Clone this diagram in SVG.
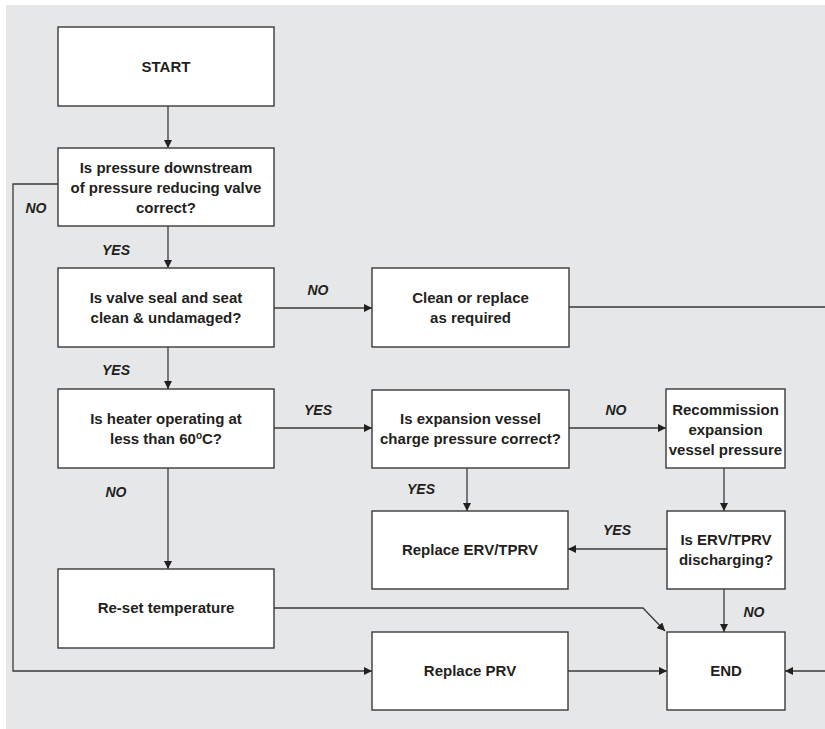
<svg xmlns="http://www.w3.org/2000/svg" width="825" height="729" viewBox="0 0 825 729">
<defs>
<style>
.box{fill:#ffffff;stroke:#3a3a3a;stroke-width:1.4}
.t{font-family:"Liberation Sans",Arial,sans-serif;font-weight:bold;font-size:15px;fill:#231f20;text-anchor:middle}
.lbl{font-family:"Liberation Sans",Arial,sans-serif;font-weight:bold;font-style:italic;font-size:14px;fill:#231f20;text-anchor:middle}
.c{fill:none;stroke:#3a3a3a;stroke-width:1.3}
</style>
<marker id="ah" viewBox="0 0 10 10" refX="10" refY="5" markerWidth="8" markerHeight="8" markerUnits="userSpaceOnUse" orient="auto">
<path d="M0,0 L10,5 L0,10 Z" fill="#231f20"/>
</marker>
</defs>
<rect x="0" y="0" width="825" height="729" fill="#ffffff"/>
<rect x="6" y="5" width="819" height="724" fill="#e6e7e8"/>

<g id="connectors">
<path class="c" d="M168,106 V148" marker-end="url(#ah)"/>
<path class="c" d="M58,184 H13 V671 H372" marker-end="url(#ah)"/>
<path class="c" d="M168,226 V268" marker-end="url(#ah)"/>
<path class="c" d="M274,308 H372" marker-end="url(#ah)"/>
<path class="c" d="M569,307 H826 V671 H785" marker-end="url(#ah)"/>
<path class="c" d="M168,347 V389" marker-end="url(#ah)"/>
<path class="c" d="M274,428 H372" marker-end="url(#ah)"/>
<path class="c" d="M569,428 H666" marker-end="url(#ah)"/>
<path class="c" d="M168,468 V569" marker-end="url(#ah)"/>
<path class="c" d="M467,468 V511" marker-end="url(#ah)"/>
<path class="c" d="M724,468 V511" marker-end="url(#ah)"/>
<path class="c" d="M667,549 H568" marker-end="url(#ah)"/>
<path class="c" d="M724,589 V632" marker-end="url(#ah)"/>
<path class="c" d="M274,608 H643 L665,631" marker-end="url(#ah)"/>
<path class="c" d="M568,671 H667" marker-end="url(#ah)"/>
<text class="lbl" x="36" y="213">NO</text>
<text class="lbl" x="116" y="255">YES</text>
<text class="lbl" x="318" y="295">NO</text>
<text class="lbl" x="116" y="375">YES</text>
<text class="lbl" x="318" y="415">YES</text>
<text class="lbl" x="616" y="415">NO</text>
<text class="lbl" x="116" y="497">NO</text>
<text class="lbl" x="421" y="494">YES</text>
<text class="lbl" x="617" y="535">YES</text>
<text class="lbl" x="754" y="617">NO</text>
</g>

<g id="start">
<rect class="box" x="58" y="27" width="216" height="79"/>
<text class="t" x="166" y="72">START</text>
</g>
<g id="q-pressure">
<rect class="box" x="58" y="148" width="216" height="78"/>
<text class="t" x="166" y="173">Is pressure downstream</text>
<text class="t" x="166" y="193">of pressure reducing valve</text>
<text class="t" x="166" y="213">correct?</text>
</g>
<g id="q-seal">
<rect class="box" x="58" y="268" width="216" height="79"/>
<text class="t" x="166" y="303">Is valve seal and seat</text>
<text class="t" x="166" y="323">clean &amp; undamaged?</text>
</g>
<g id="clean">
<rect class="box" x="372" y="268" width="197" height="79"/>
<text class="t" x="470.5" y="303">Clean or replace</text>
<text class="t" x="470.5" y="323">as required</text>
</g>
<g id="q-heater">
<rect class="box" x="58" y="389" width="216" height="79"/>
<text class="t" x="166" y="424">Is heater operating at</text>
<text class="t" x="166" y="444">less than 60<tspan font-size="10" dy="-5">o</tspan><tspan dy="5">C?</tspan></text>
</g>
<g id="q-expansion">
<rect class="box" x="372" y="390" width="197" height="78"/>
<text class="t" x="470.5" y="424">Is expansion vessel</text>
<text class="t" x="470.5" y="444">charge pressure correct?</text>
</g>
<g id="recommission">
<rect class="box" x="666" y="389" width="119" height="79"/>
<text class="t" x="725.5" y="415">Recommission</text>
<text class="t" x="725.5" y="435">expansion</text>
<text class="t" x="725.5" y="455">vessel pressure</text>
</g>
<g id="replace-erv">
<rect class="box" x="372" y="511" width="196" height="78"/>
<text class="t" x="470" y="555">Replace ERV/TPRV</text>
</g>
<g id="q-erv">
<rect class="box" x="667" y="511" width="118" height="78"/>
<text class="t" x="726" y="545">Is ERV/TPRV</text>
<text class="t" x="726" y="565">discharging?</text>
</g>
<g id="reset">
<rect class="box" x="58" y="569" width="216" height="79"/>
<text class="t" x="166" y="613">Re-set temperature</text>
</g>
<g id="replace-prv">
<rect class="box" x="372" y="632" width="196" height="78"/>
<text class="t" x="470" y="676">Replace PRV</text>
</g>
<g id="end">
<rect class="box" x="667" y="632" width="118" height="78"/>
<text class="t" x="726" y="676">END</text>
</g>
</svg>
